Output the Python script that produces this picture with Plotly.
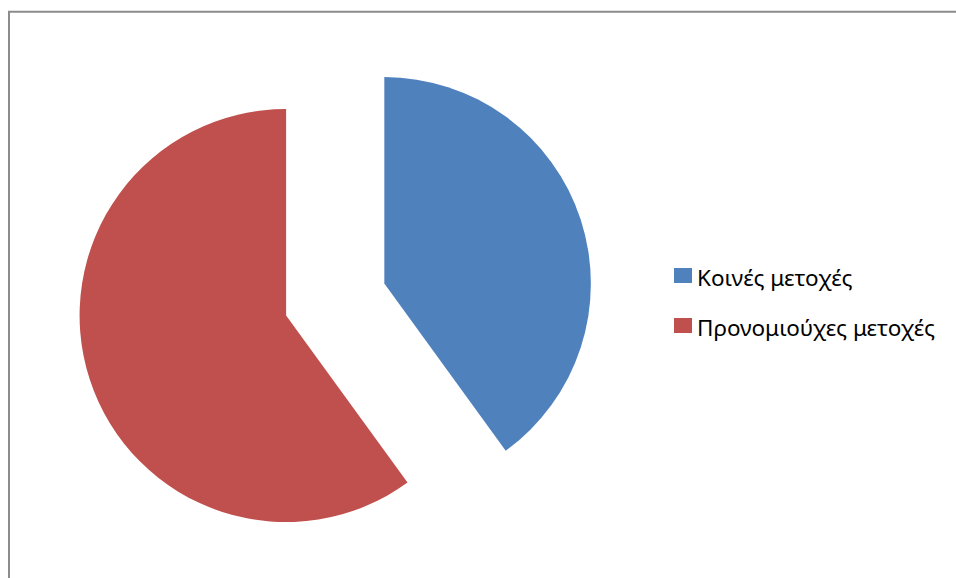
import plotly.graph_objects as go

# Share structure: common vs preferred shares
labels = ["Κοινές μετοχές", "Προνομιούχες μετοχές"]
values = [40, 60]
colors = ["#4F81BD", "#C0504D"]

W, H = 956, 578

fig = go.Figure(
    go.Pie(
        labels=labels,
        values=values,
        marker=dict(colors=colors, line=dict(width=0)),
        pull=[0.25, 0.25],
        sort=False,
        direction="clockwise",
        rotation=0,
        textinfo="none",
        hoverinfo="label+percent",
        domain=dict(x=[0.0806, 0.6207], y=[0.0349, 0.9285]),
        showlegend=False,
    )
)

# Chart-area frame (open on the right and bottom edges of the page)
shapes = [
    dict(type="rect", xref="paper", yref="paper",
         x0=9 / W, x1=1.05, y0=-0.05, y1=1 - 11.8 / H,
         line=dict(color="#8C8C8C", width=2), fillcolor="rgba(0,0,0,0)",
         layer="below"),
]

# Legend: coloured square + label per slice
annotations = []
legend_y = [275.5, 325.5]
for lab, col, yc in zip(labels, colors, legend_y):
    shapes.append(dict(type="rect", xref="paper", yref="paper",
                       x0=674 / W, x1=692 / W,
                       y0=1 - (yc + 7.5) / H, y1=1 - (yc - 7.5) / H,
                       line=dict(width=0), fillcolor=col))
    annotations.append(dict(text=lab, xref="paper", yref="paper",
                            x=695 / W, y=1 - (yc + 1.5) / H,
                            xanchor="left", yanchor="middle",
                            showarrow=False,
                            font=dict(family="Noto Sans", size=22.5, color="#000000")))

fig.update_layout(
    width=W, height=H,
    margin=dict(l=0, r=0, t=0, b=0),
    paper_bgcolor="white",
    plot_bgcolor="white",
    shapes=shapes,
    annotations=annotations,
)

fig.write_html("out.html")
